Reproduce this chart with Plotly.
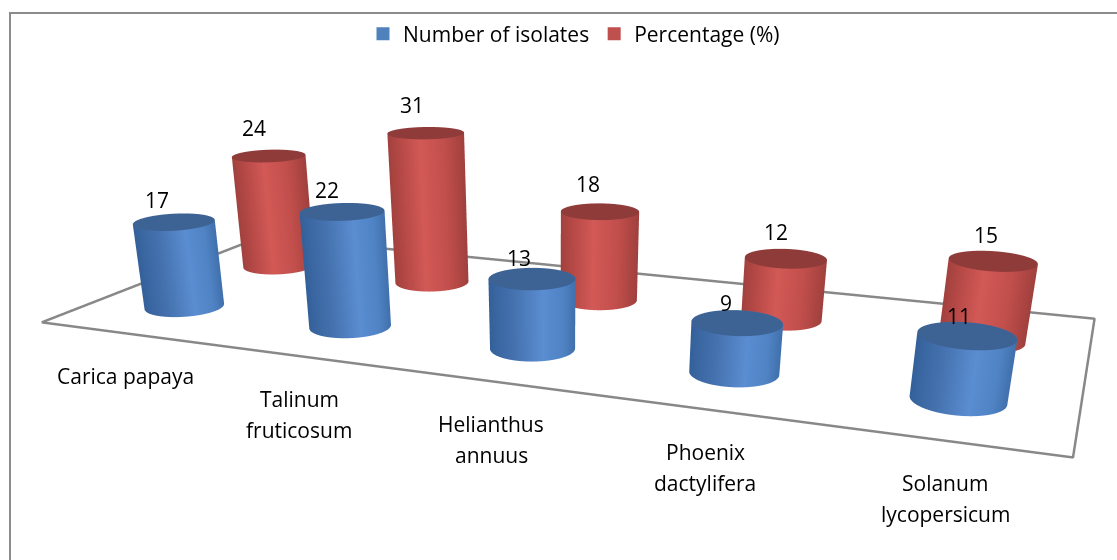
import numpy as np
import plotly.graph_objects as go

# ---------------- data ----------------
categories = ["Carica papaya", "Talinum<br>fruticosum", "Helianthus<br>annuus",
              "Phoenix<br>dactylifera", "Solanum<br>lycopersicum"]
series_names = ["Number of isolates", "Percentage (%)"]
number_of_isolates = [17, 22, 13, 9, 11]
percentage = [24, 31, 18, 12, 15]

# ---------------- styling / geometry ----------------
FONT = "Open Sans"
FS = 21
SIDE_SCALES = [
    [[0, "#34609A"], [0.3, "#4673B0"], [0.62, "#5A8DD1"], [0.85, "#5083C4"], [1, "#4070AC"]],
    [[0, "#A2413E"], [0.2, "#BA4B48"], [0.42, "#D25956"], [0.72, "#C24F4C"], [1, "#A0403D"]],
]
TOP_COLORS = ["#3D6394", "#8E3B39"]
LEGEND_COLORS = ["#4F81BD", "#C0504D"]
LABEL_YSHIFT = [26, 31]       # data-label offset above each series' cylinders (px)
ROW_Y = [0.52, 1.45]          # depth position of each series row
R = 0.205                     # cylinder radius (category units)
FLOOR_X = (-0.5, 4.5)
FLOOR_Y = (0.0, 2.05)
ZS = 0.0261                   # world height per value unit
W, H = 1117, 1130

XR = [-0.6, 4.6]
YR = [-0.8, 2.2]
ZR = [-1.0, 35.0]

G = 0.4
Lx, Ly, Lz = XR[1] - XR[0], YR[1] - YR[0], (ZR[1] - ZR[0]) * ZS
Wc = np.array([(XR[0] + XR[1]) / 2, (YR[0] + YR[1]) / 2, (ZR[0] + ZR[1]) / 2 * ZS])
cam_pos = np.array([4.456, -5.344, 1.997])
fwd = np.array([-0.3295, 0.8323, -0.4457])
eye = G * (cam_pos - Wc)
look = G * (cam_pos + 6.5 * fwd - Wc)


def shade(theta, cx, cy):
    tw = np.array([cam_pos[0] - cx, cam_pos[1] - cy])
    tw = tw / np.linalg.norm(tw)
    right = np.array([-tw[1], tw[0]])
    s = np.cos(theta) * right[0] + np.sin(theta) * right[1]
    return (s + 1) / 2


fig = go.Figure()
theta = np.linspace(0, 2 * np.pi, 121)
flat = dict(ambient=1.0, diffuse=0.0, specular=0.0, roughness=1.0, fresnel=0.0)

for k, vals in enumerate([number_of_isolates, percentage]):
    for i, v in enumerate(vals):
        cx, cy = i, ROW_Y[k]
        xs = np.vstack([cx + R * np.cos(theta)] * 2)
        ys = np.vstack([cy + R * np.sin(theta)] * 2)
        zs = np.vstack([np.zeros_like(theta), np.full_like(theta, v)])
        sc = np.vstack([shade(theta, cx, cy)] * 2)
        fig.add_trace(go.Surface(x=xs, y=ys, z=zs, surfacecolor=sc, colorscale=SIDE_SCALES[k],
                                 cmin=0, cmax=1, showscale=False, lighting=flat,
                                 hoverinfo="skip", showlegend=False))
        rr = np.array([0.0, R])
        xt = cx + np.outer(rr, np.cos(theta))
        yt = cy + np.outer(rr, np.sin(theta))
        zt = np.full_like(xt, v)
        fig.add_trace(go.Surface(x=xt, y=yt, z=zt, surfacecolor=np.zeros_like(xt),
                                 colorscale=[[0, TOP_COLORS[k]], [1, TOP_COLORS[k]]],
                                 cmin=0, cmax=1, showscale=False, lighting=flat,
                                 hoverinfo="skip", showlegend=False))

# floor outline
fig.add_trace(go.Scatter3d(
    x=[FLOOR_X[0], FLOOR_X[1], FLOOR_X[1], FLOOR_X[0], FLOOR_X[0]],
    y=[FLOOR_Y[0], FLOOR_Y[0], FLOOR_Y[1], FLOOR_Y[1], FLOOR_Y[0]],
    z=[0, 0, 0, 0, 0], mode="lines", line=dict(color="#888888", width=5),
    hoverinfo="skip", showlegend=False))

# legend entries
for k, name in enumerate(series_names):
    fig.add_trace(go.Scatter3d(x=[None], y=[None], z=[None], mode="markers", name=name,
                               marker=dict(symbol="square", size=13, color=LEGEND_COLORS[k])))

annotations = []
for k, vals in enumerate([number_of_isolates, percentage]):
    for i, v in enumerate(vals):
        annotations.append(dict(x=i, y=ROW_Y[k] - 0.1, z=v, text=str(v), showarrow=False,
                                xanchor="center", yanchor="middle",
                                yshift=LABEL_YSHIFT[k], xshift=-5,
                                font=dict(family=FONT, size=FS, color="black")))
for i, lab in enumerate(categories):
    for j, line in enumerate(lab.split("<br>")):
        annotations.append(dict(x=i, y=FLOOR_Y[0], z=0, text=line, showarrow=False,
                                xanchor="center", yanchor="middle",
                                yshift=-43 - 31 * j, xshift=3,
                                font=dict(family=FONT, size=FS, color="black")))

noax = dict(visible=False, showgrid=False, zeroline=False, showspikes=False)
fig.update_layout(
    width=W, height=H, margin=dict(l=0, r=0, t=0, b=0),
    paper_bgcolor="white", plot_bgcolor="white",
    font=dict(family=FONT, size=FS, color="black"),
    hovermode=False,
    scene=dict(
        domain=dict(x=[0, 1], y=[0, 1]),
        xaxis=dict(range=XR, **noax), yaxis=dict(range=YR, **noax), zaxis=dict(range=ZR, **noax),
        aspectmode="manual", aspectratio=dict(x=G * Lx, y=G * Ly, z=G * Lz),
        camera=dict(eye=dict(x=eye[0], y=eye[1], z=eye[2]),
                    center=dict(x=look[0], y=look[1], z=look[2]),
                    up=dict(x=0, y=0, z=1),
                    projection=dict(type="perspective")),
        bgcolor="rgba(0,0,0,0)",
        annotations=annotations,
    ),
    legend=dict(orientation="h", x=574 / W, xanchor="center", y=1 - 34 / H, yanchor="middle",
                font=dict(family=FONT, size=FS), bgcolor="rgba(0,0,0,0)"),
    shapes=[dict(type="rect", xref="paper", yref="paper", x0=10 / W, x1=1.2, y0=-0.2,
                 y1=1 - 13 / H, line=dict(color="#8C8C8C", width=2), layer="below")],
)

fig.write_html("out.html", config={"displayModeBar": False},
               post_script="document.documentElement.style.overflow='hidden';"
                           "document.body.style.overflow='hidden';"
                           "document.body.style.margin='0';")
